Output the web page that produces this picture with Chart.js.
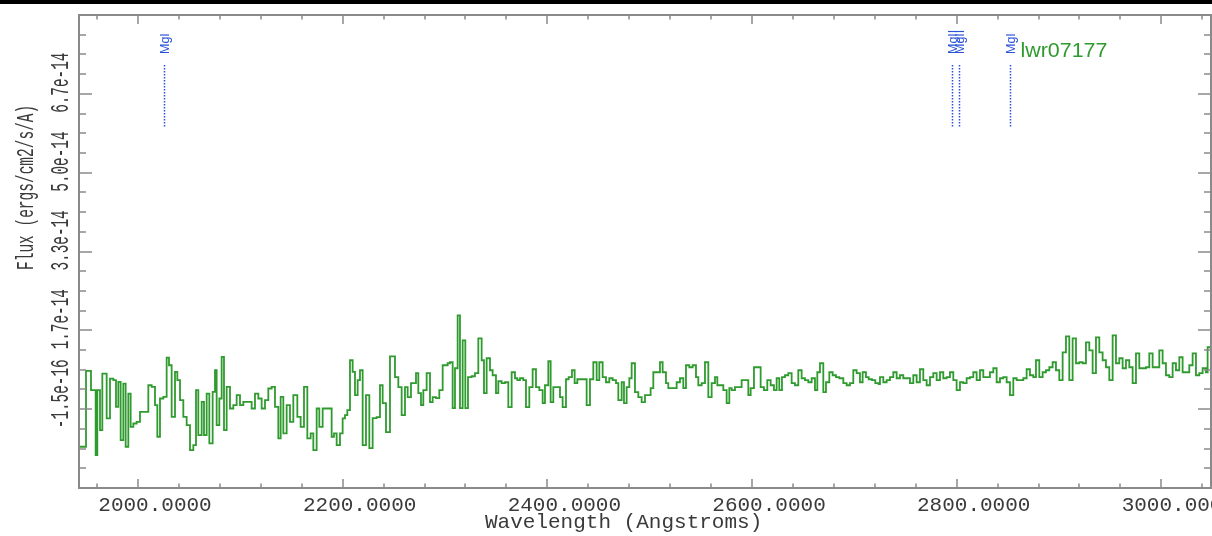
<!DOCTYPE html>
<html>
<head>
<meta charset="utf-8">
<script src="https://cdn.jsdelivr.net/npm/chart.js@4.4.1/dist/chart.umd.min.js"></script>
<style>
  html, body { margin: 0; padding: 0; background: #fff; overflow: hidden; }
  #wrap { position: relative; width: 1212px; height: 536px; }
  #topbar { position: absolute; left: 0; top: 0; width: 1212px; height: 4px; background: #000; }
  canvas { position: absolute; left: 0; top: 0; }
</style>
</head>
<body>
<div id="wrap">
  <canvas id="spectrum" width="1212" height="536"></canvas>
  <div id="topbar"></div>
</div>
<script>
// wavelength (Angstroms) where each step of the histogram starts
const wavelength = [
  1942.5, 1949.19, 1954.07, 1958.63, 1960.26, 1962.87, 1965.15, 1969.38, 1972.64, 1975.89,
  1978.50, 1980.78, 1983.06, 1985.66, 1987.94, 1990.55, 1992.83, 1995.44, 1998.69, 2001.95,
  2005.21, 2010.09, 2013.35, 2016.61, 2018.89, 2021.49, 2024.75, 2028.01, 2030.29, 2032.89,
  2036.15, 2038.43, 2041.04, 2044.29, 2047.55, 2050.81, 2054.06, 2056.67, 2058.95, 2062.21,
  2064.49, 2067.09, 2069.70, 2072.96, 2075.24, 2076.86, 2079.47, 2081.75, 2084.03, 2086.64,
  2089.89, 2093.15, 2096.41, 2099.66, 2102.92, 2106.18, 2111.06, 2114.32, 2117.58, 2120.83,
  2124.09, 2127.35, 2130.61, 2133.86, 2137.12, 2139.40, 2142.01, 2145.26, 2148.52, 2151.78,
  2155.69, 2158.94, 2162.20, 2165.46, 2168.71, 2171.32, 2174.58, 2177.18, 2180.44, 2182.72,
  2185.98, 2189.23, 2191.51, 2194.12, 2197.38, 2199.98, 2202.26, 2204.54, 2207.15, 2209.75,
  2212.03, 2214.64,
  2216.92, 2219.53, 2222.78, 2226.04, 2229.30, 2233.21, 2236.46, 2239.07, 2242.33, 2246.23,
  2251.12, 2254.38, 2257.63, 2260.89, 2263.50, 2266.75, 2269.03, 2271.64, 2273.92, 2276.53,
  2278.81, 2282.06, 2285.32, 2287.93, 2291.18, 2294.44, 2297.70, 2299.98, 2302.58, 2304.86,
  2307.47, 2309.75, 2312.35, 2314.63, 2317.24, 2319.84, 2322.45, 2326.03, 2329.29, 2332.55,
  2335.80, 2338.08, 2340.69, 2343.95, 2346.55, 2349.81, 2352.09, 2355.35, 2358.60, 2361.86,
  2365.12, 2368.38, 2370.66, 2373.26, 2376.52, 2379.12, 2382.38, 2385.64, 2388.90, 2392.15,
  2395.41, 2397.69, 2400.95, 2403.23, 2405.83, 2409.09, 2412.35, 2414.95, 2418.21, 2420.81,
  2424.07, 2426.68, 2429.28,
  2431.89, 2438.40, 2441.66, 2444.92, 2448.18, 2450.78, 2454.04, 2457.30, 2460.55, 2463.81,
  2467.07, 2469.35, 2472.60, 2474.88, 2477.49, 2480.10, 2482.38, 2485.63, 2488.89, 2492.15,
  2495.40, 2500.94, 2503.55, 2510.06, 2512.67, 2515.92, 2518.20, 2526.35, 2529.60, 2532.86,
  2535.47, 2538.72, 2541.98, 2545.24, 2547.52, 2550.77, 2554.03, 2557.29, 2560.55, 2563.80,
  2566.08, 2571.95, 2575.20, 2577.81, 2580.09, 2583.35, 2589.86, 2596.37, 2598.65, 2601.91,
  2608.43, 2611.68, 2614.94, 2618.20, 2621.45, 2624.06, 2626.66, 2629.27, 2632.20, 2635.46,
  2638.72, 2641.97, 2645.23, 2648.49, 2651.74, 2655.00, 2658.26, 2661.52, 2663.80, 2666.40,
  2669.66, 2672.26, 2675.52, 2678.78, 2682.04, 2685.29, 2689.20, 2692.46, 2695.72, 2698.97,
  2702.23, 2705.49, 2708.09, 2711.35, 2713.95, 2717.21, 2720.47, 2723.73,
  2725.03, 2728.29, 2731.54, 2734.80, 2738.06, 2741.32, 2744.57, 2747.83, 2754.34, 2757.60,
  2760.86, 2764.12, 2767.37, 2770.63, 2773.89, 2777.14, 2780.40, 2783.66, 2786.91, 2790.17,
  2793.43, 2796.69, 2799.94, 2803.20, 2806.46, 2809.71, 2812.97, 2816.23, 2819.49, 2822.74,
  2826.00, 2832.51, 2835.77, 2839.03, 2842.29, 2845.54, 2848.80, 2852.06, 2855.31, 2858.57,
  2865.08, 2868.34, 2871.60, 2874.86, 2877.46, 2880.72, 2883.98, 2887.23, 2890.49, 2893.75,
  2897.00, 2900.26, 2903.52, 2906.78, 2910.03, 2913.29, 2916.55, 2919.80, 2923.06, 2926.32,
  2929.58, 2932.83, 2936.09, 2939.35, 2942.60, 2945.86, 2949.12, 2952.38, 2955.63, 2958.89,
  2962.15, 2965.40, 2968.66, 2971.92, 2975.18, 2978.43, 2984.95, 2988.20, 2991.46, 2997.98,
  3001.23, 3004.49, 3007.75, 3011.00, 3014.26, 3017.52, 3020.77, 3027.29, 3030.55, 3033.80,
  3037.06, 3040.32, 3043.57, 3045.20, 3050.00
];

// flux in units of 1e-14 ergs/cm2/s/A
const flux = [
  -0.816, 0.800, 0.389, -0.993, 0.389, -0.462, 0.744, -0.213, 0.637, 0.602,
  0.035, 0.566, -0.674, 0.531, -0.816, 0.318, -0.391, -0.320, -0.284, -0.072,
  -0.072, 0.495, 0.460, 0.070, -0.603, 0.212, 0.247, 1.084, 0.921, -0.178,
  0.779, 0.602, 0.176, -0.178, -0.355, -0.887, -0.781, 0.389, -0.568, 0.141,
  -0.568, 0.318, -0.745, 0.354, 0.814, -0.355, 0.212, 1.098, -0.462, 0.460,
  -0.001, 0.070, 0.283, 0.070, 0.141, 0.141, -0.001, 0.318, 0.212, -0.001,
  0.176, 0.425, 0.460, 0.035, -0.639, 0.247, -0.532, 0.070, -0.284, 0.283,
  -0.178, -0.391, 0.460, -0.639, -0.532, -0.887, -0.001, -0.391, -0.001, -0.001,
  -0.001, -0.603, -0.532, -0.781, -0.532, -0.213, -0.143, -0.036, 1.027, 0.779,
  0.283, 0.602,
  0.814, -0.781, 0.283, -0.844, -0.206, -0.185, 0.495, 0.113, -0.504, 1.112,
  0.666, 0.453, -0.143, 0.453, 0.240, 0.538, 0.538, 0.751, 0.325, 0.070,
  0.389, 0.751, 0.134, 0.240, 0.219, 0.389, 0.921, 0.921, 0.963, 0.985,
  0.006, 0.857, 1.984, 0.006, 1.452, 0.006, 0.666, 0.687, 0.751, 1.495,
  1.027, 0.325, 1.070, 0.814, 0.708, 0.325, 0.580, 0.538, 0.559, 0.028,
  0.772, 0.644, 0.602, 0.644, 0.602, 0.028, 0.453, 0.836, 0.453, 0.389,
  0.113, 0.495, 1.006, 0.134, 0.453, 0.453, 0.240, 0.028, 0.623, 0.666,
  0.814, 0.538, 0.623,
  0.623, 0.070, 0.623, 0.985, 0.602, 0.985, 0.666, 0.559, 0.644, 0.602,
  0.538, 0.176, 0.559, 0.113, 0.453, 0.644, 0.963, 0.347, 0.240, 0.134,
  0.283, 0.432, 0.772, 0.985, 0.772, 0.538, 0.432, 0.559, 0.644, 0.432,
  0.921, 0.878, 0.921, 0.666, 0.495, 0.538, 0.985, 0.240, 0.538, 0.666,
  0.495, 0.389, 0.113, 0.432, 0.389, 0.453, 0.602, 0.283, 0.432, 0.878,
  0.453, 0.389, 0.602, 0.495, 0.389, 0.644, 0.389, 0.666, 0.708, 0.751,
  0.538, 0.495, 0.814, 0.644, 0.602, 0.559, 0.644, 0.389, 0.772, 0.963,
  0.347, 0.559, 0.772, 0.708, 0.666, 0.644, 0.538, 0.495, 0.538, 0.814,
  0.751, 0.559, 0.772, 0.666, 0.623, 0.602, 0.538, 0.517,
  0.666, 0.559, 0.602, 0.666, 0.772, 0.644, 0.708, 0.644, 0.538, 0.708,
  0.559, 0.836, 0.602, 0.495, 0.666, 0.751, 0.602, 0.772, 0.644, 0.666,
  0.772, 0.602, 0.389, 0.559, 0.538, 0.644, 0.666, 0.772, 0.602, 0.814,
  0.666, 0.772, 0.857, 0.559, 0.644, 0.666, 0.559, 0.283, 0.644, 0.602,
  0.644, 0.836, 0.708, 0.666, 1.027, 0.666, 0.772, 0.814, 0.878, 0.985,
  0.814, 0.602, 1.197, 1.537, 0.602, 1.495, 0.963, 0.985, 0.963, 1.410,
  1.240, 0.751, 1.516, 1.197, 1.027, 0.878, 0.602, 1.559, 0.963, 1.070,
  0.857, 1.027, 0.878, 0.538, 1.176, 0.857, 0.878, 1.176, 0.878, 1.240,
  0.963, 0.708, 0.666, 0.963, 0.814, 1.091, 0.772, 0.921, 1.176, 0.708,
  0.751, 0.857, 0.772, 1.304, 1.304
];

const xTickValues = [2000, 2200, 2400, 2600, 2800, 3000];
const xTickLabels = ["2000.0000", "2200.0000", "2400.0000", "2600.0000", "2800.0000", "3000.0000"];
const yTickValues = [-0.015, 1.665, 3.345, 5.025, 6.705];
const yTickLabels = ["-1.5e-16", "1.7e-14", "3.3e-14", "5.0e-14", "6.7e-14"];

const lineWavelengths = [2025.8, 2795.5, 2802.7, 2852.1];
const lineNames = ["MgI", "MgII", "MgII", "MgI"];
const spectrumName = "lwr07177";

const X_MIN = 1942.35, X_MAX = 3048.5, X_MINOR = 40;
const Y_MIN = -1.695, Y_MAX = 8.385, Y_MINOR = 0.42;

const green = "#2f9b2f";
const blue = "#2a52d6";
const frameGray = "#8a8a8a";
const textGray = "#3a3a3a";

// frame, inward ticks, rotated y labels, titles and line ids
const spectrumDecor = {
    id: "spectrumDecor",
    afterDraw(chart) {
        const ctx = chart.ctx;
        const a = chart.chartArea;
        const x = chart.scales.x;
        const y = chart.scales.y;

        ctx.save();
        ctx.strokeStyle = frameGray;
        ctx.lineWidth = 2;
        ctx.strokeRect(a.left, a.top, a.right - a.left, a.bottom - a.top);

        ctx.lineWidth = 1.5;
        ctx.beginPath();
        for (let w = 1960; w <= X_MAX; w += X_MINOR) {
            const px = Math.round(x.getPixelForValue(w));
            const len = w % 200 === 0 ? 9 : 4.5;
            ctx.moveTo(px, a.bottom); ctx.lineTo(px, a.bottom - len);
            ctx.moveTo(px, a.top); ctx.lineTo(px, a.top + len);
        }
        for (let k = 1; Y_MIN + k * Y_MINOR < Y_MAX - 0.01; k++) {
            const py = Math.round(y.getPixelForValue(Y_MIN + k * Y_MINOR));
            const len = k % 4 === 0 ? 13 : 7;
            ctx.moveTo(a.left, py); ctx.lineTo(a.left + len, py);
            ctx.moveTo(a.right, py); ctx.lineTo(a.right - len, py);
        }
        ctx.stroke();

        // y tick labels, condensed and reading upward
        ctx.fillStyle = textGray;
        ctx.font = "25px 'Liberation Mono'";
        ctx.textAlign = "left";
        ctx.textBaseline = "alphabetic";
        yTickValues.forEach((v, i) => {
            const py = y.getPixelForValue(v);
            ctx.save();
            ctx.translate(68, py + 19);
            ctx.rotate(-Math.PI / 2);
            ctx.scale(0.573, 1);
            ctx.fillText(yTickLabels[i], 0, 0);
            ctx.restore();
        });

        ctx.save();
        ctx.font = "23px 'Liberation Mono'";
        ctx.translate(33, 270);
        ctx.rotate(-Math.PI / 2);
        ctx.scale(0.63, 1);
        ctx.fillText("Flux (ergs/cm2/s/A)", 0, 0);
        ctx.restore();

        ctx.font = "21px 'Liberation Mono'";
        ctx.fillText("Wavelength (Angstroms)", 485, 528);

        // spectral line ids
        ctx.strokeStyle = blue;
        ctx.fillStyle = blue;
        ctx.lineWidth = 1.5;
        ctx.setLineDash([1.5, 1.5]);
        ctx.font = "12.5px 'Liberation Sans'";
        lineWavelengths.forEach((w, i) => {
            const px = Math.round(x.getPixelForValue(w)) + 0.5;
            ctx.beginPath();
            ctx.moveTo(px, 65);
            ctx.lineTo(px, 128);
            ctx.stroke();
            ctx.save();
            ctx.translate(px + 4.5, 54);
            ctx.rotate(-Math.PI / 2);
            ctx.fillText(lineNames[i], 0, 0);
            ctx.restore();
        });
        ctx.setLineDash([]);

        ctx.fillStyle = green;
        ctx.font = "20px 'Liberation Sans'";
        ctx.save();
        ctx.translate(1020.5, 57);
        ctx.scale(1.07, 1);
        ctx.fillText(spectrumName, 0, 0);
        ctx.restore();

        ctx.restore();
    }
};

new Chart(document.getElementById("spectrum"), {
    type: "line",
    data: {
        datasets: [
            {
                label: spectrumName,
                data: wavelength.map((w, i) => ({ x: w, y: flux[i] })),
                stepped: true,
                borderColor: green,
                borderWidth: 1.8,
                pointRadius: 0,
                fill: false
            }
        ]
    },
    options: {
        responsive: false,
        animation: false,
        devicePixelRatio: 1,
        layout: { padding: { left: 0, right: 1, top: 15, bottom: 0 } },
        plugins: {
            legend: { display: false },
            tooltip: { enabled: false }
        },
        scales: {
            x: {
                type: "linear",
                min: X_MIN,
                max: X_MAX,
                grid: { display: false, drawTicks: false },
                border: { display: false },
                afterBuildTicks(scale) {
                    scale.ticks = xTickValues.map(v => ({ value: v }));
                },
                afterFit(scale) {
                    scale.height = 48;
                    scale.paddingLeft = 0;
                    scale.paddingRight = 0;
                },
                ticks: {
                    autoSkip: false,
                    maxRotation: 0,
                    minRotation: 0,
                    padding: 5,
                    labelOffset: 17,
                    color: textGray,
                    font: { family: "Liberation Mono", size: 21 },
                    callback: (value, index) => xTickLabels[index]
                }
            },
            y: {
                type: "linear",
                min: Y_MIN,
                max: Y_MAX,
                grid: { display: false, drawTicks: false },
                border: { display: false },
                ticks: { display: false },
                afterFit(scale) {
                    scale.width = 79;
                }
            }
        }
    },
    plugins: [spectrumDecor]
});
</script>
</body>
</html>
